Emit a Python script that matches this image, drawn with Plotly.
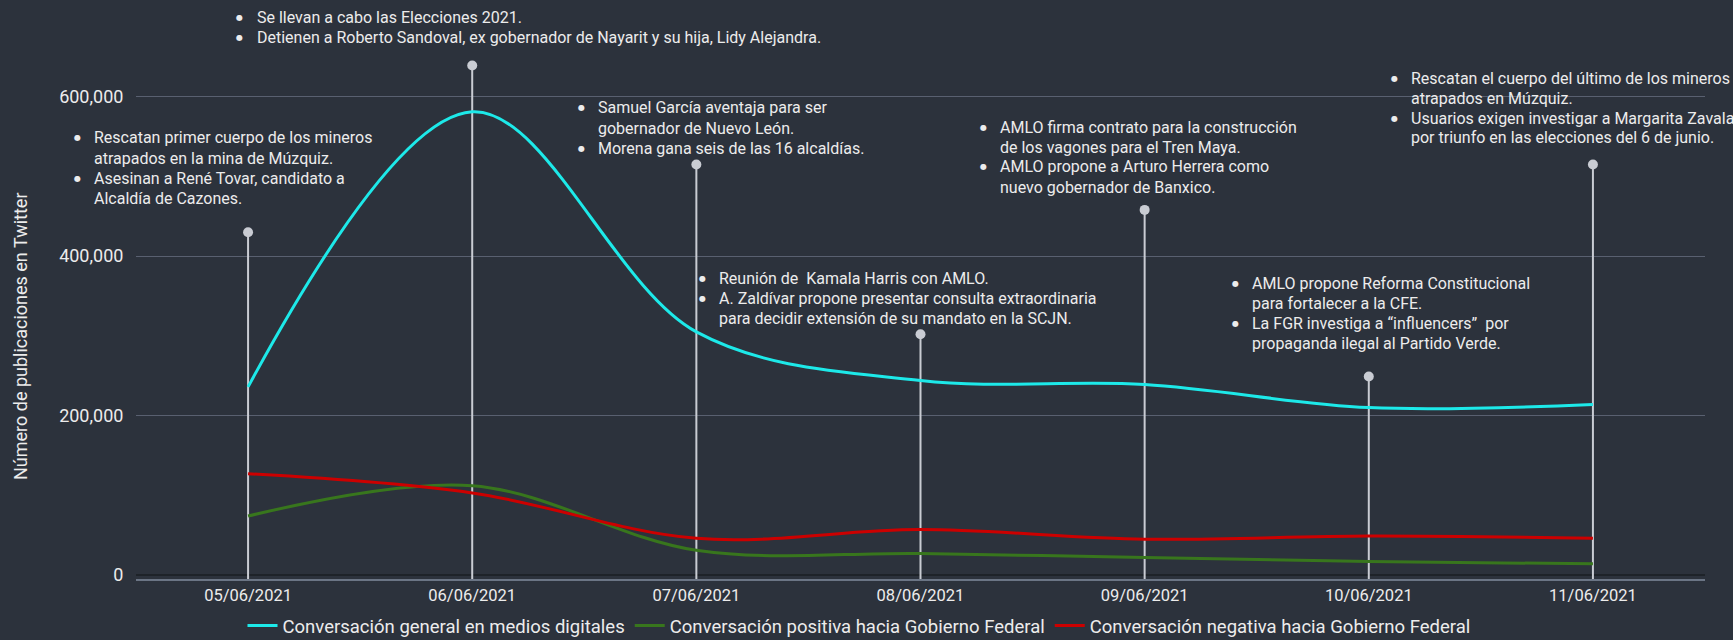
import plotly.graph_objects as go

# ---------------- data ----------------
dates = ["05/06/2021", "06/06/2021", "07/06/2021", "08/06/2021",
         "09/06/2021", "10/06/2021", "11/06/2021"]
general = [236000, 581000, 305000, 244000, 239000, 210000, 214000]
positiva = [74000, 112000, 31000, 27000, 22000, 17000, 14000]
negativa = [127000, 103000, 46000, 57000, 45000, 49000, 46000]
event_height = [430000, 639000, 515000, 302000, 458000, 249000, 515000]

series_names = ["Conversación general en medios digitales",
                "Conversación positiva hacia Gobierno Federal",
                "Conversación negativa hacia Gobierno Federal"]
series_colors = ["#1de9e9", "#38761d", "#cc0000"]

event_texts = [
    [["Rescatan primer cuerpo de los mineros", "atrapados en la mina de Múzquiz."],
     ["Asesinan a René Tovar, candidato a", "Alcaldía de Cazones."]],
    [["Se llevan a cabo las Elecciones 2021."],
     ["Detienen a Roberto Sandoval, ex gobernador de Nayarit y su hija, Lidy Alejandra."]],
    [["Samuel García aventaja para ser", "gobernador de Nuevo León."],
     ["Morena gana seis de las 16 alcaldías."]],
    [["Reunión de  Kamala Harris con AMLO."],
     ["A. Zaldívar propone presentar consulta extraordinaria",
      "para decidir extensión de su mandato en la SCJN."]],
    [["AMLO firma contrato para la construcción", "de los vagones para el Tren Maya."],
     ["AMLO propone a Arturo Herrera como", "nuevo gobernador de Banxico."]],
    [["AMLO propone Reforma Constitucional", "para fortalecer a la CFE."],
     ["La FGR investiga a “influencers”  por", "propaganda ilegal al Partido Verde."]],
    [["Rescatan el cuerpo del último de los mineros", "atrapados en Múzquiz."],
     ["Usuarios exigen investigar a Margarita Zavala", "por triunfo en las elecciones del 6 de junio."]],
]

y_title = "Número de publicaciones en Twitter"
y_ticks = [0, 200000, 400000, 600000]
y_ticktext = ["0", "200,000", "400,000", "600,000"]

# ---------------- layout geometry ----------------
W, H = 1733, 640
ML, MR, MT, MB = 136, 28, 1, 61
PW, PH = W - ML - MR, H - MT - MB
Y_MIN, Y_MAX = -5000, 720000

def px(x):
    return (x - ML) / PW

def py(y):
    return (H - MB - y) / PH

# text block positions (left edge of text, centre of first line) in pixels
block_pos = [(92, 138), (254.5, 17.5), (596, 108), (717, 278),
             (998, 127), (1250, 283), (1409, 78)]
LINE_GAP = 20

BG = "#2c323c"
TXT = "#ececec"

fig = go.Figure()

# event drop lines
ex, ey = [], []
for d, v in zip(dates, event_height):
    ex += [d, d, None]
    ey += [Y_MIN, v, None]
fig.add_trace(go.Scatter(x=ex, y=ey, mode="lines",
                         line=dict(color="#c9ccd3", width=2),
                         showlegend=False, hoverinfo="skip"))
fig.add_trace(go.Scatter(x=dates, y=event_height, mode="markers",
                         marker=dict(color="#c9ccd3", size=10),
                         showlegend=False, hoverinfo="skip"))

for name, vals, col in zip(series_names, [general, positiva, negativa], series_colors):
    fig.add_trace(go.Scatter(x=dates, y=vals, mode="lines", name=name,
                             line=dict(color=col, width=3, shape="spline", smoothing=1.0)))

annotations = []
for (tx, ty), items in zip(block_pos, event_texts):
    k = 0
    for item in items:
        for j, line in enumerate(item):
            yy = ty + k * LINE_GAP
            if j == 0:
                annotations.append(dict(x=px(tx - 15), y=py(yy), xref="paper", yref="paper",
                                        text="●", showarrow=False, xanchor="center",
                                        yanchor="middle",
                                        font=dict(family="DejaVu Sans", size=8, color=TXT)))
            annotations.append(dict(x=px(tx), y=py(yy), xref="paper", yref="paper",
                                    text=line, showarrow=False, xanchor="left",
                                    yanchor="middle",
                                    font=dict(family="Roboto", size=16, color=TXT)))
            k += 1

annotations.append(dict(x=px(20), y=py(337), xref="paper", yref="paper",
                        text=y_title, textangle=-90, showarrow=False,
                        xanchor="center", yanchor="middle",
                        font=dict(family="Roboto", size=18, color=TXT)))

fig.update_layout(
    width=W, height=H,
    margin=dict(l=ML, r=MR, t=MT, b=MB, autoexpand=False),
    paper_bgcolor=BG, plot_bgcolor=BG,
    font=dict(family="Roboto", color=TXT),
    showlegend=True,
    legend=dict(orientation="h", x=px(859), y=py(626), xanchor="center", yanchor="middle",
                font=dict(size=18.5, color=TXT), bgcolor="rgba(0,0,0,0)",
                itemwidth=30, tracegroupgap=0),
    annotations=annotations,
    xaxis=dict(type="category", range=[-0.5, len(dates) - 0.5],
               showgrid=False, zeroline=False,
               showline=True, linecolor="#6b7585", linewidth=2,
               ticks="", tickfont=dict(size=16.5, color=TXT), automargin=False),
    yaxis=dict(range=[Y_MIN, Y_MAX], tickvals=y_ticks, ticktext=y_ticktext,
               showgrid=True, gridcolor="#596070", gridwidth=1,
               zeroline=True, zerolinecolor="#1e2329", zerolinewidth=2,
               showline=False, ticks="outside", ticklen=8, tickcolor=BG,
               tickfont=dict(size=18, color=TXT), automargin=False),
)

fig.write_html("out.html",
               config={"displayModeBar": False},
               post_script="document.body.style.margin='0';document.body.style.overflow='hidden';")
